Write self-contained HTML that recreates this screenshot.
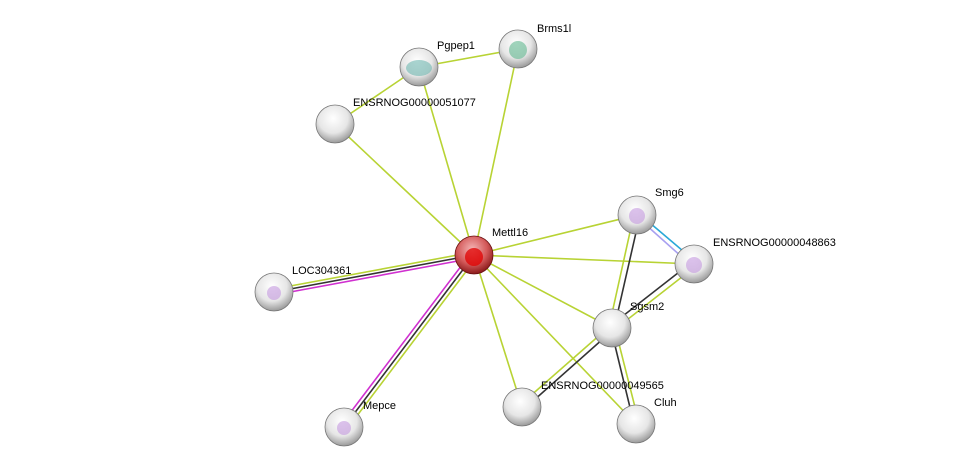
<!DOCTYPE html>
<html><head><style>body{margin:0;background:#fff}svg{display:block}text{font-family:"Liberation Sans",sans-serif;font-size:11px;fill:#000}</style></head><body>
<svg width="976" height="472" viewBox="0 0 976 472">
<defs>
<radialGradient id="g" cx="0.45" cy="0.35" r="0.65"><stop offset="0" stop-color="#ffffff"/><stop offset="0.6" stop-color="#e6e6e6"/><stop offset="1" stop-color="#9a9a9a"/></radialGradient>
<radialGradient id="r" cx="0.45" cy="0.35" r="0.65"><stop offset="0" stop-color="#f4b5b5"/><stop offset="0.6" stop-color="#d45a5a"/><stop offset="1" stop-color="#8a1a1a"/></radialGradient>
</defs>
<g stroke-width="1.6" fill="none">
<g stroke="#b8d334">
<line x1="474" y1="255" x2="419" y2="67"/><line x1="474" y1="255" x2="518" y2="49"/><line x1="474" y1="255" x2="335" y2="124"/>
<line x1="474" y1="255" x2="637" y2="215"/><line x1="474" y1="255" x2="694" y2="264"/><line x1="474" y1="255" x2="612" y2="328"/>
<line x1="474" y1="255" x2="522" y2="407"/><line x1="474" y1="255" x2="636" y2="424"/>
<line x1="419" y1="67" x2="518" y2="49"/><line x1="419" y1="67" x2="335" y2="124"/>
<line x1="474" y1="252" x2="274" y2="289"/><line x1="477" y1="257" x2="347" y2="429"/>
<line x1="634" y1="214" x2="609" y2="327"/><line x1="696" y1="266" x2="614" y2="330"/>
<line x1="610" y1="326" x2="520" y2="405"/><line x1="615" y1="328" x2="639" y2="423"/>
</g>
<g stroke="#333">
<line x1="474" y1="255" x2="274" y2="292"/><line x1="474" y1="255" x2="344" y2="427"/>
<line x1="640" y1="215" x2="614" y2="329"/><line x1="692" y1="262" x2="610" y2="326"/>
<line x1="613" y1="330" x2="524" y2="409"/><line x1="611" y1="329" x2="634" y2="424"/>
</g>
<g stroke="#d030d0">
<line x1="474" y1="258" x2="274" y2="295"/><line x1="471" y1="253" x2="341" y2="425"/>
</g>
<line x1="637" y1="212" x2="696" y2="262" stroke="#2aa8d8"/>
<line x1="636" y1="216" x2="692" y2="266" stroke="#a8a0f0"/>
</g>
<g stroke="#777" stroke-width="0.8">
<circle cx="419" cy="67" r="19" fill="url(#g)"/><circle cx="518" cy="49" r="19" fill="url(#g)"/>
<circle cx="335" cy="124" r="19" fill="url(#g)"/><circle cx="637" cy="215" r="19" fill="url(#g)"/>
<circle cx="694" cy="264" r="19" fill="url(#g)"/><circle cx="274" cy="292" r="19" fill="url(#g)"/>
<circle cx="612" cy="328" r="19" fill="url(#g)"/><circle cx="522" cy="407" r="19" fill="url(#g)"/>
<circle cx="636" cy="424" r="19" fill="url(#g)"/><circle cx="344" cy="427" r="19" fill="url(#g)"/>
<circle cx="474" cy="255" r="19" fill="url(#r)" stroke="#6a1010"/>
</g>
<g stroke="none">
<circle cx="474" cy="257" r="9" fill="#e00000" opacity="0.75"/>
<circle cx="637" cy="216" r="8" fill="#c49ae0" opacity="0.6"/><circle cx="694" cy="265" r="8" fill="#c49ae0" opacity="0.6"/>
<circle cx="274" cy="293" r="7" fill="#c49ae0" opacity="0.6"/><circle cx="344" cy="428" r="7" fill="#c49ae0" opacity="0.6"/>
<ellipse cx="419" cy="68" rx="13" ry="8" fill="#70b8b0" opacity="0.6"/><circle cx="518" cy="50" r="9" fill="#60b890" opacity="0.6"/>
</g>
<text x="492" y="236">Mettl16</text>
<text x="437" y="49">Pgpep1</text>
<text x="537" y="32">Brms1l</text>
<text x="353" y="106">ENSRNOG00000051077</text>
<text x="655" y="196">Smg6</text>
<text x="713" y="246">ENSRNOG00000048863</text>
<text x="292" y="274">LOC304361</text>
<text x="630" y="310">Sgsm2</text>
<text x="541" y="389">ENSRNOG00000049565</text>
<text x="654" y="406">Cluh</text>
<text x="363" y="409">Mepce</text>
</svg></body></html>
